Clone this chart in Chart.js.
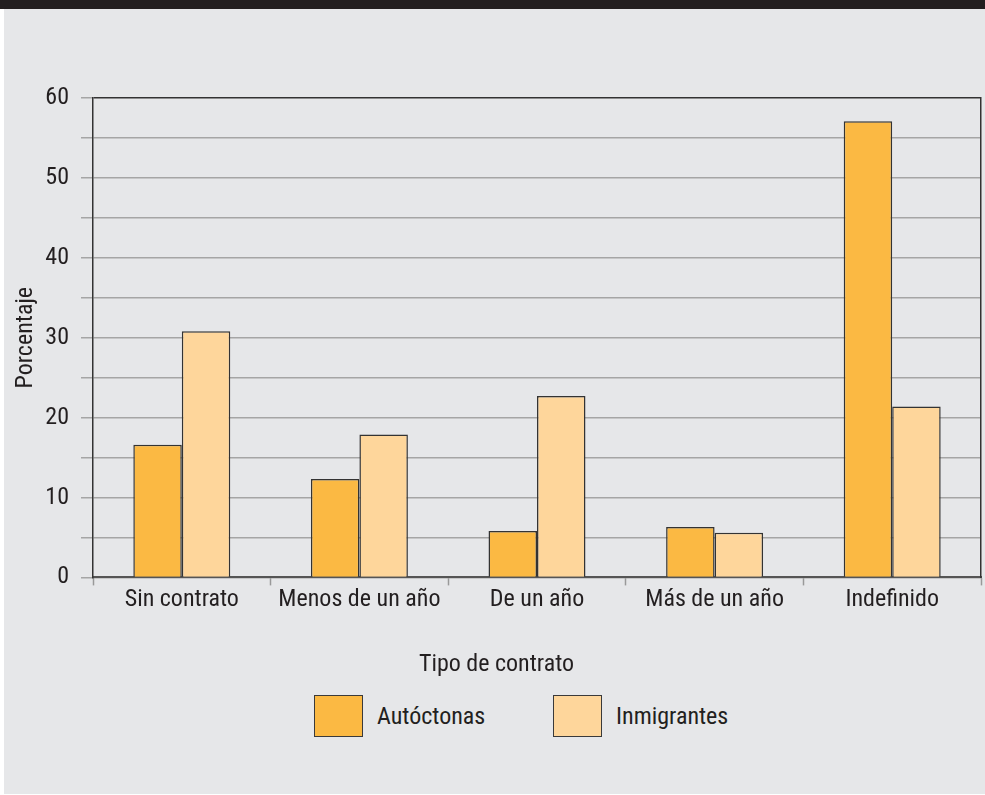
<!DOCTYPE html>
<html>
<head>
<meta charset="utf-8">
<script src="https://cdn.jsdelivr.net/npm/chart.js"></script>
<style>
  body { margin: 0; background: #fff; width: 985px; height: 795px; position: relative; overflow: hidden;
         font-family: 'Roboto Condensed', 'Liberation Sans Narrow', 'DejaVu Sans Condensed', Roboto, sans-serif; color: #231f20; }
  #topbar { position: absolute; left: 0; top: 0; width: 985px; height: 9px; background: #231f20; }
  #panel { position: absolute; left: 4px; top: 9px; width: 981px; height: 785px; background: #e6e7e9; }
  #wrap { position: absolute; left: 0; top: 0; width: 985px; height: 690px; }
  #legend { position: absolute; left: 314px; top: 695px; display: flex; }
  .item { display: flex; align-items: center; width: 239px; font-size: 24px; }
  .box { box-sizing: border-box; width: 49px; height: 42px; border: 1.5px solid #3a3a3a; margin-right: 14px; }
</style>
</head>
<body>
<div id="topbar"></div>
<div id="panel"></div>
<div id="wrap"><canvas id="chart" width="985" height="690"></canvas></div>
<div id="legend"></div>
<script>
const categories = ['Sin contrato', 'Menos de un año', 'De un año', 'Más de un año', 'Indefinido'];
const seriesNames = ['Autóctonas', 'Inmigrantes'];
const autoctonas = [16.6, 12.3, 5.8, 6.3, 57.1];
const inmigrantes = [30.8, 17.9, 22.7, 5.6, 21.4];
const yTicks = [0, 10, 20, 30, 40, 50, 60];
const colors = ['#fbb943', '#fed69b'];

Chart.defaults.font.family = "'Roboto Condensed', 'Liberation Sans Narrow', 'DejaVu Sans Condensed', Roboto, sans-serif";
Chart.defaults.font.size = 24;
Chart.defaults.color = '#231f20';

const chart = new Chart(document.getElementById('chart').getContext('2d'), {
    type: 'bar',
    data: {
        labels: categories,
        datasets: [
            { label: seriesNames[0], data: autoctonas, backgroundColor: colors[0], borderColor: '#333', borderWidth: 1.5 },
            { label: seriesNames[1], data: inmigrantes, backgroundColor: colors[1], borderColor: '#333', borderWidth: 1.5 }
        ]
    },
    options: {
        responsive: false,
        animation: false,
        categoryPercentage: 0.546,
        barPercentage: 1,
        layout: { padding: { top: 98, left: 12, right: 4, bottom: 1 } },
        scales: {
            x: {
                grid: { drawOnChartArea: false, tickLength: 8, tickColor: '#999', tickWidth: 1.5 },
                border: { color: '#555', width: 2 },
                ticks: { padding: 0, maxRotation: 0, minRotation: 0, autoSkip: false }
            },
            y: {
                min: 0,
                max: 60,
                ticks: { stepSize: 5, padding: 12, callback: v => yTicks.includes(v) ? v : '' },
                grid: {
                    color: c => (c.tick && c.tick.value === 60) ? '#333' : '#a5a5a5',
                    lineWidth: 1.5,
                    tickLength: 12,
                    tickColor: '#a5a5a5'
                },
                border: { color: '#333', width: 1.5 },
                title: { display: true, text: 'Porcentaje', padding: 0 },
                afterFit: s => { s.width = 81; }
            },
            // only used for the frame line on the right
            right: {
                position: 'right',
                ticks: { display: false },
                grid: { display: false },
                border: { color: '#333', width: 1.5 },
                afterFit: s => { s.width = 0; }
            }
        },
        plugins: {
            legend: { display: false },
            tooltip: { enabled: false },
            title: {
                display: true,
                position: 'bottom',
                text: 'Tipo de contrato',
                weight: 500,
                padding: { top: 36, bottom: 10 },
                font: { size: 24, weight: 'normal' }
            }
        }
    }
});

// legend as html, built from the chart's own legend items
const legendEl = document.getElementById('legend');
Chart.defaults.plugins.legend.labels.generateLabels(chart).forEach(item => {
    const div = document.createElement('div');
    div.className = 'item';
    const box = document.createElement('span');
    box.className = 'box';
    box.style.background = item.fillStyle;
    div.appendChild(box);
    div.appendChild(document.createTextNode(item.text));
    legendEl.appendChild(div);
});
</script>
</body>
</html>
